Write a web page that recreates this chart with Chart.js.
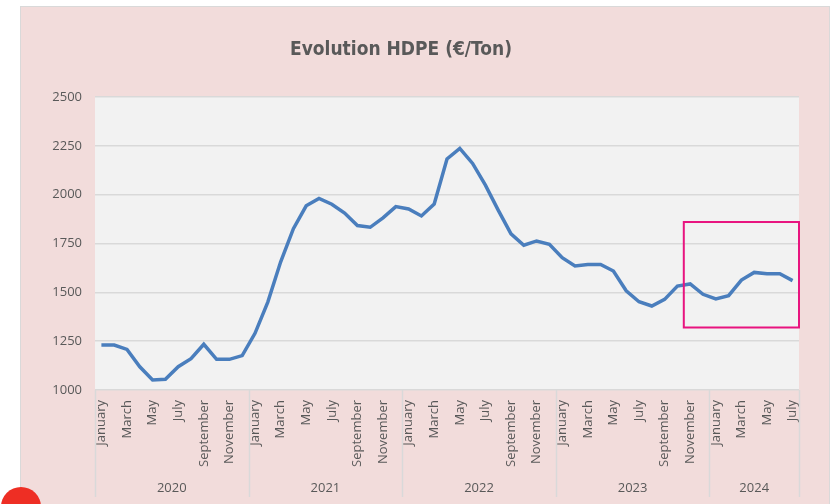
<!DOCTYPE html>
<html><head><meta charset="utf-8">
<script src="https://cdn.jsdelivr.net/npm/chart.js@4.4.1/dist/chart.umd.min.js"></script>
<style>html,body{margin:0;padding:0;background:#fff;overflow:hidden}canvas{display:block}</style>
</head><body>
<canvas id="c" width="833" height="504"></canvas>
<script>
const monthNames = ['January','February','March','April','May','June','July','August','September','October','November','December'];
const years = ['2020','2021','2022','2023','2024'];
const monthsPerYear = [12,12,12,12,7];
const hdpePrice = [
  1230,1230,1208,1119,1051,1055,1119,1160,1234,1157,1157,1176,
  1290,1450,1655,1826,1943,1981,1951,1906,1842,1833,1881,1939,
  1927,1891,1952,2183,2237,2160,2049,1921,1799,1741,1763,1746,
  1677,1635,1643,1643,1609,1508,1452,1430,1464,1532,1543,1490,
  1466,1483,1563,1602,1595,1595,1560
];
const yTicks = [1000,1250,1500,1750,2000,2250,2500];
const titleText = 'Evolution HDPE (€/Ton)';
// highlighted window (last months) : index range and value range
const highlightStartIndex = 46;
const highlightValues = [1320, 1860];

const categories = [];
years.forEach((y, k) => {
  for (let m = 0; m < monthsPerYear[k]; m++) categories.push(monthNames[m]);
});

const TXT = '#595959';
const tickFont = {family: "'Open Sans', 'Noto Sans', sans-serif", size: 13};

const decor = {
  id: 'decor',
  beforeDraw(chart) {
    const {ctx, chartArea: a} = chart;
    ctx.save();
    ctx.fillStyle = '#ffffff'; ctx.fillRect(0, 0, chart.width, chart.height);
    ctx.fillStyle = '#f2dcdb'; ctx.fillRect(20.5, 6.5, 809, 520);
    ctx.strokeStyle = '#d9d9d9'; ctx.lineWidth = 1; ctx.strokeRect(20.5, 6.5, 809, 520);
    ctx.fillStyle = '#f2f2f2'; ctx.fillRect(a.left, a.top, a.right - a.left, a.bottom - a.top);
    // chart title
    ctx.fillStyle = TXT;
    ctx.font = "bold 19px 'DejaVu Sans Condensed', sans-serif";
    ctx.textAlign = 'center'; ctx.textBaseline = 'middle';
    ctx.fillText(titleText, 401, 50);
    ctx.restore();
  },
  afterDraw(chart) {
    const {ctx, chartArea: a} = chart;
    const xs = chart.scales.x, ys = chart.scales.y;
    const bound = i => i <= 0 ? a.left : (i >= categories.length ? a.right : (xs.getPixelForValue(i - 1) + xs.getPixelForValue(i)) / 2);
    ctx.save();
    ctx.strokeStyle = '#d9d9d9'; ctx.lineWidth = 1.5;
    let start = 0;
    const edges = [0];
    monthsPerYear.forEach(n => { start += n; edges.push(start); });
    edges.forEach(e => {
      const x = Math.round(bound(e)) + 0.5;
      ctx.beginPath(); ctx.moveTo(x, a.bottom); ctx.lineTo(x, 497); ctx.stroke();
    });
    ctx.fillStyle = TXT; ctx.font = "13px 'Open Sans', 'Noto Sans', sans-serif";
    ctx.textAlign = 'center'; ctx.textBaseline = 'middle';
    years.forEach((y, k) => {
      const cx = (bound(edges[k]) + bound(edges[k + 1])) / 2;
      ctx.fillText(y, cx, 488);
    });
    // highlight box
    const bx = bound(highlightStartIndex), by1 = ys.getPixelForValue(highlightValues[1]), by2 = ys.getPixelForValue(highlightValues[0]);
    ctx.strokeStyle = '#e8147f'; ctx.lineWidth = 2;
    ctx.strokeRect(bx, by1, a.right - bx, by2 - by1);
    // decorative red dot
    ctx.fillStyle = '#ee2e24';
    ctx.beginPath(); ctx.arc(21, 507, 20, 0, Math.PI * 2); ctx.fill();
    ctx.restore();
  }
};

new Chart(document.getElementById('c'), {
  type: 'line',
  data: {
    labels: categories,
    datasets: [{
      data: hdpePrice,
      borderColor: '#4a7ebd',
      borderWidth: 3.5,
      pointRadius: 0,
      tension: 0,
      fill: false
    }]
  },
  options: {
    responsive: false,
    animation: false,
    layout: {padding: {left: 21, right: 34, top: 97, bottom: 0}},
    plugins: {
      legend: {display: false},
      tooltip: {enabled: false},
      title: {display: false}
    },
    scales: {
      x: {
        offset: true,
        grid: {display: false, drawTicks: false},
        border: {display: false},
        ticks: {
          autoSkip: false, minRotation: 90, maxRotation: 90, padding: 10,
          color: TXT, font: tickFont,
          callback: function(v, i) { return i % 2 === 0 ? this.getLabelForValue(v) : ''; }
        },
        afterFit: s => { s.height = 114; }
      },
      y: {
        min: 1000, max: 2500,
        afterBuildTicks: s => { s.ticks = yTicks.map(v => ({value: v})); },
        grid: {color: '#d9d9d9', lineWidth: 1.5, drawTicks: false},
        border: {display: false},
        ticks: {padding: 13, color: TXT, font: tickFont, callback: v => String(v)},
        afterFit: s => { s.width = 74; }
      }
    }
  },
  plugins: [decor]
});
</script>
</body></html>
